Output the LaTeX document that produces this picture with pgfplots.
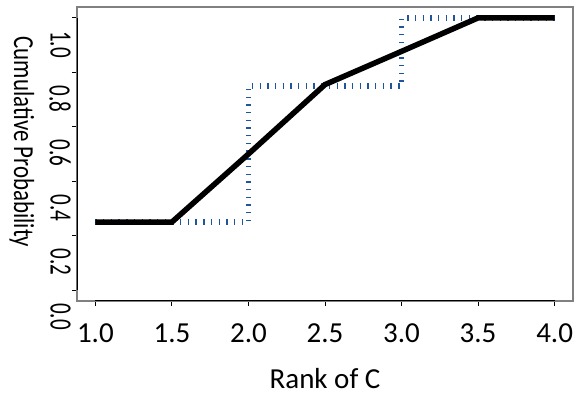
\documentclass[border=0pt]{standalone}
\usepackage{fontspec}
\setmainfont{Carlito}
\usepackage{pgfplots}
\pgfplotsset{compat=1.18}
\definecolor{stepblue}{RGB}{30,85,155}
\definecolor{boxgray}{RGB}{128,128,128}
\begin{document}
\begin{tikzpicture}
\useasboundingbox (-77pt,-94pt) rectangle (504pt,301pt);
\begin{axis}[
  scale only axis, width=496pt, height=294pt,
  xmin=0.88, xmax=4.12, ymin=-0.04, ymax=1.04,
  axis line style={boxgray, line width=1.3pt},
  xtick={1,1.5,2,2.5,3,3.5,4},
  ytick={0,0.2,0.4,0.6,0.8,1.0},
  xtick pos=bottom, ytick pos=left,
  tick align=outside, major tick length=5pt,
  tick style={black, line width=1pt},
  /pgf/number format/.cd, fixed, fixed zerofill, precision=1, assume math mode=true,
  /pgfplots/.cd,
  xticklabel style={font=\fontsize{29}{31}\selectfont, yshift=-14pt},
  yticklabel style={font=\fontsize{31}{33}\selectfont, inner sep=0pt, xshift=-1pt, yshift=-13pt, rotate=-90, xscale=0.68, anchor=north west},
  xlabel={Rank of C},
  ylabel={Cumulative Probability},
  xlabel style={font=\fontsize{29}{31}\selectfont, at={(axis description cs:0.5,-0.228)}, anchor=north, inner sep=0pt},
  ylabel style={font=\fontsize{29}{31}\selectfont, at={(axis description cs:-0.111,0.541)}, anchor=center, rotate=180, xscale=0.79, inner sep=0pt},
]
\draw[black, line width=1.3pt] (axis cs:1,-0.04) -- (axis cs:4,-0.04);
\draw[black, line width=1.3pt] (axis cs:0.88,0) -- (axis cs:0.88,1);
\addplot[const plot, stepblue, line width=5.5pt, dash pattern=on 1.4pt off 6.3pt] coordinates {
  (1,0.25) (2,0.75) (3,1.0) (4,1.0)
};
\addplot[black, line width=5.5pt, line cap=butt, line join=miter] coordinates {
  (1,0.25) (1.5,0.25) (2,0.5) (2.5,0.755) (3,0.877) (3.5,1.0) (4,1.0)
};
\end{axis}
\end{tikzpicture}
\end{document}
